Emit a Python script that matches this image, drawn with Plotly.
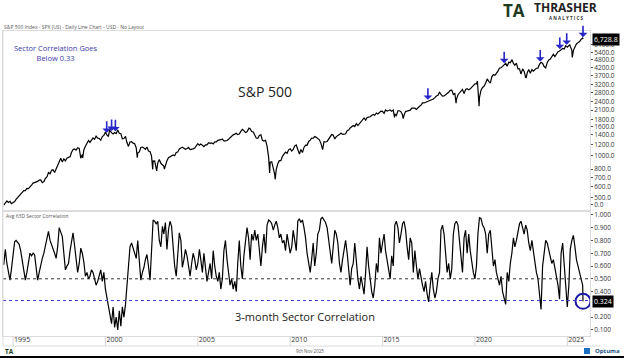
import numpy as np
import pandas as pd
import plotly.graph_objects as go

# ---------------- data ----------------
month_dates = pd.date_range("1994-06-01", "2025-10-01", freq="MS") + pd.offsets.MonthEnd(0)

spx_monthly = [
    444, 458, 475, 463, 472, 454, 459,
    470, 487, 501, 515, 533, 545, 562, 562, 584, 582, 605, 616,
    636, 640, 645, 654, 669, 671, 640, 652, 687, 705, 757, 741,
    786, 791, 757, 801, 848, 885, 954, 899, 947, 915, 955, 970,
    980, 1049, 1102, 1112, 1091, 1134, 1121, 957, 1017, 1099, 1164, 1229,
    1280, 1238, 1286, 1335, 1302, 1373, 1329, 1320, 1283, 1363, 1389, 1469,
    1394, 1366, 1499, 1452, 1421, 1455, 1431, 1518, 1437, 1429, 1315, 1320,
    1366, 1240, 1160, 1249, 1256, 1224, 1211, 1134, 1041, 1060, 1139, 1148,
    1130, 1107, 1147, 1077, 1067, 990, 912, 916, 815, 886, 936, 880,
    856, 841, 848, 917, 964, 975, 990, 1008, 996, 1051, 1058, 1112,
    1131, 1145, 1126, 1107, 1121, 1141, 1102, 1104, 1115, 1130, 1174, 1212,
    1181, 1204, 1181, 1157, 1192, 1191, 1234, 1220, 1229, 1207, 1249, 1248,
    1280, 1281, 1295, 1311, 1270, 1270, 1277, 1304, 1336, 1378, 1401, 1418,
    1438, 1407, 1421, 1482, 1531, 1503, 1455, 1474, 1527, 1549, 1481, 1468,
    1379, 1331, 1323, 1386, 1400, 1280, 1267, 1283, 1166, 969, 896, 903,
    826, 735, 798, 873, 919, 919, 987, 1021, 1057, 1036, 1096, 1115,
    1074, 1104, 1169, 1187, 1089, 1031, 1102, 1049, 1141, 1183, 1181, 1258,
    1286, 1327, 1326, 1364, 1345, 1321, 1292, 1219, 1131, 1253, 1247, 1258,
    1312, 1366, 1408, 1398, 1310, 1362, 1379, 1407, 1441, 1412, 1416, 1426,
    1498, 1515, 1569, 1598, 1631, 1606, 1686, 1633, 1682, 1757, 1806, 1848,
    1783, 1859, 1872, 1884, 1924, 1960, 1931, 2003, 1972, 2018, 2068, 2059,
    1995, 2105, 2068, 2086, 2107, 2063, 2104, 1972, 1920, 2079, 2080, 2044,
    1940, 1932, 2060, 2065, 2097, 2099, 2174, 2171, 2168, 2126, 2199, 2239,
    2279, 2364, 2363, 2384, 2412, 2423, 2470, 2472, 2519, 2575, 2648, 2674,
    2824, 2714, 2641, 2648, 2705, 2718, 2816, 2902, 2914, 2712, 2760, 2507,
    2704, 2784, 2834, 2946, 2752, 2942, 2980, 2926, 2977, 3038, 3141, 3231,
    3226, 2954, 2585, 2912, 3044, 3100, 3271, 3500, 3363, 3270, 3622, 3756,
    3714, 3811, 3973, 4181, 4204, 4298, 4395, 4523, 4308, 4605, 4567, 4766,
    4516, 4374, 4530, 4132, 4132, 3785, 4130, 3955, 3586, 3872, 4080, 3840,
    4077, 3970, 4109, 4169, 4180, 4450, 4589, 4508, 4288, 4194, 4568, 4770,
    4846, 5096, 5254, 5036, 5278, 5460, 5522, 5648, 5762, 5705, 6032, 5882,
    6041, 5955, 5612, 5569, 5912, 6205, 6339, 6460, 6688, 6840,
]

spx_extreme_dates = ["1998-10-08", "2000-03-24", "2001-09-21", "2002-07-23", "2002-10-09",
                     "2003-03-11", "2007-10-09", "2008-11-20", "2009-03-09", "2010-07-02",
                     "2011-10-03", "2015-08-25", "2016-02-11", "2018-12-24", "2020-02-19",
                     "2020-03-23", "2022-01-03", "2022-10-12", "2025-02-19", "2025-04-08"]
spx_extreme_values = [959, 1527, 966, 797, 777,
                      800, 1565, 752, 677, 1022,
                      1099, 1867, 1829, 2351, 3386,
                      2237, 4797, 3577, 6144, 4983]

last_date = "2025-11-07"
spx_last = 6728.8

corr_monthly = [
    0.61, 0.73, 0.62, 0.55, 0.49, 0.58, 0.70,
    0.79, 0.80, 0.78, 0.77, 0.72, 0.65, 0.58, 0.49, 0.55, 0.62, 0.70, 0.68,
    0.70, 0.69, 0.60, 0.49, 0.55, 0.62, 0.66, 0.70, 0.75, 0.82, 0.87, 0.80,
    0.77, 0.74, 0.70, 0.66, 0.75, 0.90, 0.86, 0.83, 0.70, 0.57, 0.60, 0.62,
    0.72, 0.80, 0.86, 0.76, 0.67, 0.55, 0.62, 0.74, 0.70, 0.63, 0.52, 0.55,
    0.50, 0.52, 0.57, 0.55, 0.50, 0.45, 0.48, 0.52, 0.57, 0.48, 0.55, 0.42,
    0.35, 0.30, 0.22, 0.15, 0.28, 0.12, 0.20, 0.10, 0.25, 0.13, 0.28, 0.20,
    0.30, 0.45, 0.62, 0.75, 0.78, 0.74, 0.70, 0.66, 0.80, 0.63, 0.49, 0.55,
    0.59, 0.65, 0.69, 0.60, 0.49, 0.72, 0.96, 0.95, 0.93, 0.95, 0.80, 0.75,
    0.91, 0.85, 0.94, 0.73, 0.88, 0.95, 0.91, 0.75, 0.60, 0.52, 0.70, 0.86,
    0.80, 0.59, 0.65, 0.73, 0.68, 0.60, 0.52, 0.62, 0.70, 0.65, 0.57, 0.62,
    0.73, 0.65, 0.55, 0.70, 0.60, 0.48, 0.55, 0.62, 0.50, 0.72, 0.60, 0.52,
    0.48, 0.55, 0.42, 0.50, 0.72, 0.80, 0.65, 0.55, 0.45, 0.50, 0.42, 0.48,
    0.40, 0.62, 0.80, 0.60, 0.50, 0.68, 0.78, 0.90, 0.82, 0.65, 0.85, 0.80,
    0.88, 0.80, 0.85, 0.72, 0.60, 0.75, 0.85, 0.70, 0.92, 0.96, 0.95, 0.93,
    0.88, 0.92, 0.95, 0.90, 0.82, 0.85, 0.78, 0.80, 0.72, 0.85, 0.78, 0.70,
    0.75, 0.88, 0.80, 0.72, 0.95, 0.97, 0.94, 0.96, 0.90, 0.82, 0.70, 0.62,
    0.55, 0.65, 0.78, 0.60, 0.70, 0.85, 0.88, 0.97, 0.98, 0.96, 0.94, 0.90,
    0.80, 0.70, 0.62, 0.75, 0.88, 0.85, 0.78, 0.62, 0.55, 0.65, 0.72, 0.80,
    0.70, 0.55, 0.45, 0.58, 0.62, 0.78, 0.60, 0.50, 0.42, 0.52, 0.45, 0.38,
    0.55, 0.75, 0.60, 0.48, 0.40, 0.35, 0.45, 0.62, 0.55, 0.82, 0.70, 0.78,
    0.85, 0.72, 0.65, 0.55, 0.50, 0.68, 0.60, 0.92, 0.95, 0.90, 0.78, 0.85,
    0.93, 0.95, 0.88, 0.75, 0.65, 0.82, 0.78, 0.55, 0.72, 0.60, 0.50, 0.58,
    0.50, 0.45, 0.40, 0.48, 0.38, 0.32, 0.45, 0.55, 0.42, 0.35, 0.40, 0.50,
    0.55, 0.88, 0.92, 0.85, 0.70, 0.55, 0.62, 0.50, 0.58, 0.85, 0.93, 0.95,
    0.92, 0.80, 0.62, 0.55, 0.82, 0.88, 0.70, 0.85, 0.72, 0.62, 0.55, 0.50,
    0.60, 0.85, 0.98, 0.97, 0.92, 0.90, 0.85, 0.70, 0.85, 0.88, 0.75, 0.60,
    0.65, 0.55, 0.50, 0.45, 0.52, 0.40, 0.35, 0.30, 0.55, 0.48, 0.62, 0.70,
    0.82, 0.75, 0.80, 0.88, 0.93, 0.95, 0.90, 0.85, 0.92, 0.88, 0.78, 0.72,
    0.80, 0.72, 0.60, 0.55, 0.50, 0.40, 0.26, 0.60, 0.73, 0.80, 0.78, 0.72,
    0.68, 0.62, 0.65, 0.58, 0.52, 0.45, 0.34, 0.70, 0.78, 0.60, 0.50, 0.28,
    0.45, 0.73, 0.80, 0.84, 0.75, 0.65, 0.60, 0.55, 0.50, 0.45,
]
corr_last = 0.324

signal_dates = ["2000-01-25", "2000-05-01", "2000-07-15", "2017-06-15", "2021-08-01",
                "2023-07-15", "2024-08-05", "2024-12-20", "2025-11-07"]

threshold = 0.33
mid_level = 0.5

spx_ticks = [6100, 5400, 4800, 4200, 3700, 3200, 2800, 2400, 2100, 1800, 1600,
             1400, 1200, 1000, 800, 700, 600, 500, 448]
spx_tick_text = ["6100.0", "5400.0", "4800.0", "4200.0", "3700.0", "3200.0", "2800.0",
                 "2400.0", "2100.0", "1800.0", "1600.0", "1400.0", "1200.0", "1000.0",
                 "800.0", "700.0", "600.0", "500.0", "0.0"]
corr_ticks = [1.0, 0.9, 0.8, 0.7, 0.6, 0.5, 0.4, 0.2, 0.1]
year_ticks = [1995, 2000, 2005, 2010, 2015, 2020, 2025]

# ---------------- assemble series ----------------
spx = pd.concat([
    pd.Series(spx_monthly, index=month_dates),
    pd.Series(spx_extreme_values, index=pd.to_datetime(spx_extreme_dates)),
    pd.Series([spx_last], index=pd.to_datetime([last_date])),
]).sort_index()
corr = pd.concat([
    pd.Series(corr_monthly, index=month_dates),
    pd.Series([corr_last], index=pd.to_datetime([last_date])),
]).sort_index()

# ---------------- geometry ----------------
W, H = 624, 358
L, R, T, B = 3, 34, 31, 22
PW, PH = W - L - R, H - T - B
split = 125 / PH

def px(x):
    return (x - L) / PW

def py(y):
    return (H - B - y) / PH

FONT = "Open Sans, Noto Sans, DejaVu Sans, sans-serif"
BLUE = "#2626c8"

fig = go.Figure()
fig.add_trace(go.Scatter(x=spx.index, y=spx.values, mode="lines",
                         line=dict(color="#000000", width=1.2),
                         xaxis="x", yaxis="y", hoverinfo="skip"))
fig.add_trace(go.Scatter(x=corr.index, y=corr.values, mode="lines",
                         line=dict(color="#000000", width=1.2),
                         xaxis="x2", yaxis="y2", hoverinfo="skip"))
fig.add_trace(go.Scatter(x=[corr.index[-1]], y=[corr.values[-1]], mode="markers",
                         marker=dict(symbol="circle-open", size=15,
                                     line=dict(color="#1c1ca8", width=2), color="#1c1ca8"),
                         xaxis="x2", yaxis="y2", hoverinfo="skip"))

x_range = ["1994-06-15", "2026-03-25"]

annotations = []
# signal arrows on S&P line
spx_ts = spx.index.values.astype("datetime64[s]").astype(np.int64)
for d in signal_dates:
    t = pd.Timestamp(d).to_datetime64().astype("datetime64[s]").astype(np.int64)
    v = float(np.interp(t, spx_ts, spx.values))
    annotations.append(dict(x=d, y=np.log10(v * 1.03), xref="x", yref="y",
                            text="", showarrow=True, ax=0, ay=-13,
                            arrowhead=1, arrowsize=0.9, arrowwidth=1.6,
                            arrowcolor=BLUE))

def txt(x, y, s, size, color="#333", anchor="left", bold=False, **kw):
    if bold:
        s = "<b>" + s + "</b>"
    d = dict(x=px(x), y=py(y), xref="paper", yref="paper", text=s, showarrow=False,
             xanchor=anchor, yanchor="middle", font=dict(size=size, color=color, family=FONT))
    d.update(kw)
    annotations.append(d)

txt(2, 27, "S&P 500 Index - SPX (US) - Daily Line Chart - USD - No Layout", 5, "#555")
txt(56, 53, "Sector Correlation Goes<br>Below 0.33", 7.5, "#3a3aa8", anchor="center")
txt(265, 91, "S&P 500", 14, "#222", anchor="center")
txt(4, 216, "Avg 63D Sector Correlation", 5, "#555")
txt(305, 316, "3-month Sector Correlation", 11, "#222", anchor="center")
txt(3, 351, "TA", 6.5, "#1d3d1d", bold=True)
txt(310, 351, "9th Nov 2025", 4.5, "#555", anchor="center")
txt(593, 351, "Optuma", 6, "#1a4f8a", bold=True)
# logo
txt(514, 11, "TA", 17, "#1f3a1f", anchor="center", bold=True)
txt(565, 7, "THRASHER", 12, "#222", anchor="center", bold=True)
txt(566, 18, "A N A L Y T I C S", 4.5, "#333", anchor="center", bold=True)

# last-value boxes
annotations.append(dict(x=px(592), y=np.log10(spx.values[-1]), xref="paper", yref="y",
                        text=f"{spx.values[-1]:,.1f}", showarrow=False, xanchor="left",
                        yanchor="middle", bgcolor="#000000", borderpad=1,
                        font=dict(size=7, color="#ffffff", family=FONT)))
annotations.append(dict(x=px(592), y=corr.values[-1], xref="paper", yref="y2",
                        text=f"{corr.values[-1]:.3f}", showarrow=False, xanchor="left",
                        yanchor="middle", bgcolor="#000000", borderpad=1,
                        font=dict(size=7, color="#ffffff", family=FONT)))

shapes = [
    dict(type="line", xref="x2 domain", yref="y2", x0=0, x1=1, y0=mid_level, y1=mid_level,
         line=dict(color="#333", width=1, dash="dot")),
    dict(type="line", xref="x2 domain", yref="y2", x0=0, x1=1, y0=threshold, y1=threshold,
         line=dict(color="#3a3ad0", width=1, dash="dot")),
    dict(type="line", xref="paper", yref="paper", x0=px(3), x1=px(600), y0=py(346), y1=py(346),
         line=dict(color="#dcdcdc", width=1)),
    dict(type="line", xref="paper", yref="paper", x0=px(3), x1=px(3), y0=py(346), y1=py(31),
         line=dict(color="#dcdcdc", width=1)),
    dict(type="rect", xref="paper", yref="paper", x0=px(584), x1=px(590), y0=py(348), y1=py(354),
         fillcolor="#1a6fc0", line=dict(width=0)),
    dict(type="rect", xref="paper", yref="paper", x0=px(0), x1=px(624), y0=py(358), y1=py(356),
         fillcolor="#000000", line=dict(width=0)),
]
# year separators in the date band
for yv in year_ticks:
    shapes.append(dict(type="line", xref="x2", yref="paper", x0=f"{yv}-01-01", x1=f"{yv}-01-01",
                       y0=py(346), y1=py(336), line=dict(color="#d6d6d6", width=1)))

axis_font = dict(size=6.5, color="#333", family=FONT)
fig.update_layout(
    width=W, height=H,
    margin=dict(l=L, r=R, t=T, b=B),
    paper_bgcolor="white", plot_bgcolor="white",
    showlegend=False,
    xaxis=dict(domain=[0, 1], anchor="y", type="date", range=x_range,
               showticklabels=False, ticks="", showgrid=False, zeroline=False,
               showline=True, linecolor="#dcdcdc", mirror=True, matches="x2"),
    yaxis=dict(domain=[split, 1], anchor="x", type="log", side="right",
               range=[np.log10(403), np.log10(7670)],
               tickvals=spx_ticks, ticktext=spx_tick_text,
               ticks="outside", ticklen=2, tickcolor="#555", tickfont=axis_font,
               showgrid=False, zeroline=False, showline=True, linecolor="#dcdcdc", mirror=True),
    xaxis2=dict(domain=[0, 1], anchor="y2", type="date", range=x_range,
                tickvals=[f"{y}-01-01" for y in year_ticks], ticktext=[str(y) for y in year_ticks],
                ticks="", ticklabelshift=9, ticklabelstandoff=-3,
                tickfont=dict(size=7, color="#333", family=FONT),
                showgrid=False, zeroline=False, showline=True, linecolor="#dcdcdc", mirror=True),
    yaxis2=dict(domain=[0, split], anchor="x2", range=[0.053, 1.03], side="right",
                tickvals=corr_ticks, tickformat=".3f",
                ticks="outside", ticklen=2, tickcolor="#555", tickfont=axis_font,
                showgrid=False, zeroline=False, showline=True, linecolor="#dcdcdc", mirror=True),
    annotations=annotations,
    shapes=shapes,
)

fig.write_html("out.html", config={"displayModeBar": False},
               post_script="document.body.style.margin='0';document.body.style.padding='0';")
